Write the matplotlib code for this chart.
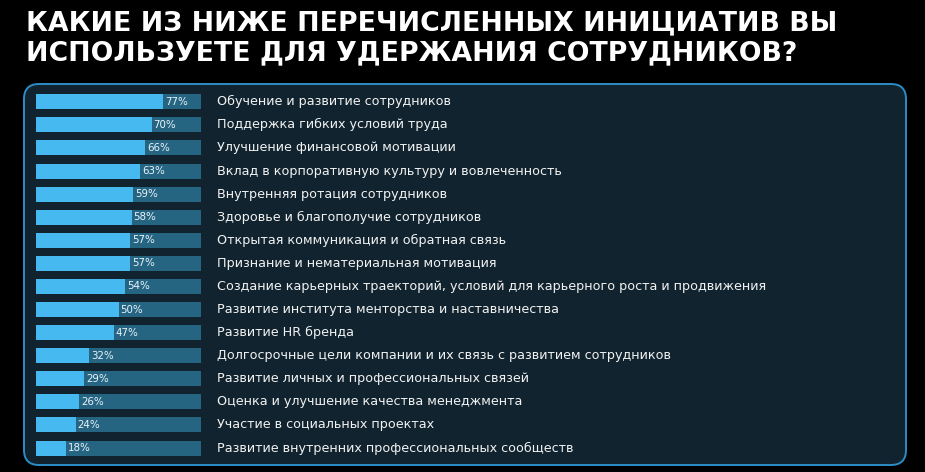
import matplotlib
matplotlib.use('Agg')
import matplotlib.pyplot as plt
from matplotlib.patches import FancyBboxPatch

# ------- Daten ----------------
labels = [
    'Обучение и развитие сотрудников',
    'Поддержка гибких условий труда',
    'Улучшение финансовой мотивации',
    'Вклад в корпоративную культуру и вовлеченность',
    'Внутренняя ротация сотрудников',
    'Здоровье и благополучие сотрудников',
    'Открытая коммуникация и обратная связь',
    'Признание и нематериальная мотивация',
    'Создание карьерных траекторий, условий для карьерного роста и продвижения',
    'Развитие института менторства и наставничества',
    'Развитие HR бренда',
    'Долгосрочные цели компании и их связь с развитием сотрудников',
    'Развитие личных и профессиональных связей',
    'Оценка и улучшение качества менеджмента',
    'Участие в социальных проектах',
    'Развитие внутренних профессиональных сообществ',
]
values = [77, 70, 66, 63, 59, 58, 57, 57, 54, 50, 47, 32, 29, 26, 24, 18]
title_lines = ['КАКИЕ ИЗ НИЖЕ ПЕРЕЧИСЛЕННЫХ ИНИЦИАТИВ ВЫ',
               'ИСПОЛЬЗУЕТЕ ДЛЯ УДЕРЖАНИЯ СОТРУДНИКОВ?']

# ------- Farben ----------------
c_bg = '#000000'
c_panel = '#10232e'
c_border = '#2b8dc6'
c_bar = '#46b9f0'
c_track = '#266582'

W, H = 925, 472
fig = plt.figure(figsize=(W / 100, H / 100), dpi=100, facecolor=c_bg)

# Hintergrund-Achse in Pixelkoordinaten (Panel + Titel)
bg = fig.add_axes([0, 0, 1, 1])
bg.set_xlim(0, W)
bg.set_ylim(H, 0)
bg.axis('off')
panel = FancyBboxPatch((24, 84), 882, 381, boxstyle='round,pad=0,rounding_size=15',
                       facecolor=c_panel, edgecolor=c_border, linewidth=1.4)
bg.add_patch(panel)

for k, line in enumerate(title_lines):
    bg.text(26, 30 + 30.5 * k, line, color='white', fontsize=19.3, fontweight='bold',
            family='DejaVu Sans', va='baseline', ha='left')

# Balken-Achse
x0, x1 = 36, 201
top, bottom = 90.2, 459.6
ax = fig.add_axes([x0 / W, (H - bottom) / H, (x1 - x0) / W, (bottom - top) / H])
ax.set_facecolor('none')
ax.set_xlim(0, 100)
ax.set_ylim(len(values) - 0.5, -0.5)
ax.axis('off')

ys = list(range(len(values)))
ax.barh(ys, [100] * len(values), height=0.65, color=c_track, linewidth=0)
ax.barh(ys, values, height=0.65, color=c_bar, linewidth=0)

label_x = (217 - x0) / (x1 - x0) * 100
for y, v, lab in zip(ys, values, labels):
    ax.text(v + 1.2, y, f'{v}%', color='#e8f4fb', fontsize=7.4, va='center', ha='left',
            family='DejaVu Sans')
    ax.text(label_x, y, lab, color='#f2f2f2', fontsize=9.2, va='center', ha='left',
            family='DejaVu Sans', clip_on=False)

fig.savefig('out.png', dpi=100, facecolor=c_bg)
